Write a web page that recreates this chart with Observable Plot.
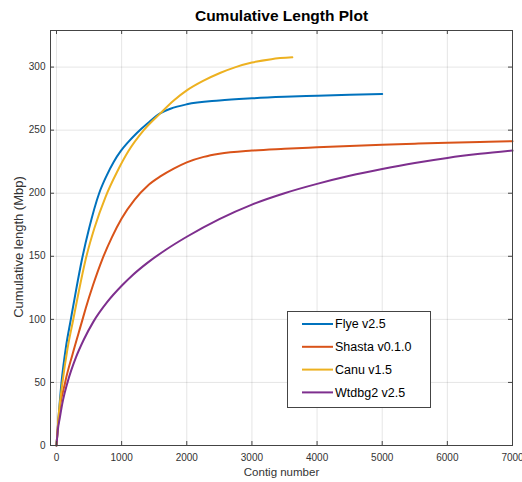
<!DOCTYPE html>
<html><head><meta charset="utf-8">
<script src="https://cdn.jsdelivr.net/npm/d3@7"></script>
<script src="https://cdn.jsdelivr.net/npm/@observablehq/plot@0.6"></script>
<style>
body{margin:0;background:#fff;}
#wrap{position:relative;width:522px;height:482px;font-family:"Liberation Sans",Arial,sans-serif;}
#legend{position:absolute;left:287px;top:311px;}
</style></head><body><div id="wrap"></div>
<script>
const series = ["Flye v2.5","Shasta v0.1.0","Canu v1.5","Wtdbg2 v2.5"];
const colors = ["#0072BD","#D95319","#EDB120","#7E2F8E"];

const flyeX = [0,31,77,145,220,300,389,500,655,770,880,988,1100,1238,1400,1597,1750,2000,2500,3000,3500,4000,4500,5000];
const flyeY = [0,22,50,78,100,123,147,172,200,214,225,233.5,240.5,248,255.5,263.5,267,270.5,273.5,275.2,276.4,277.3,278.1,278.7];

const shastaX = [0,30,133,250,389,450,560,706,850,1000,1200,1400,1600,1800,2000,2260,2500,3000,3500,4000,4500,5000,5500,6000,6500,7000];
const shastaY = [0,20,50,73,98,109,127,148,165,180,195,206,213.5,219.5,224.5,228.8,231.3,233.8,235.2,236.4,237.5,238.5,239.3,240.1,240.7,241.2];

const canuX = [0,30,92,170,256,340,450,580,752,931,1100,1340,1597,1800,2000,2250,2518,2750,3000,3300,3620];
const canuY = [0,22,50,77,99.5,121.5,148,172,197,217,233,250,263.5,273.5,281.5,289,295.5,300,303.6,306.3,307.7];

const wtdbgX = [0,20,51,100,169,300,420,565,783,1008,1167,1400,1673,2000,2500,3000,3500,4000,4500,5000,5500,6000,6500,7000];
const wtdbgY = [0,12,22,36,50,70,84,98,114,127,135,145,155,165.5,179.5,191,200,207.4,213.8,219.2,224,228,231.2,233.8];

const xTicks = [0,1000,2000,3000,4000,5000,6000,7000];
const yTicks = [0,50,100,150,200,250,300];

const title = "Cumulative Length Plot";
const xLabel = "Contig number";
const yLabel = "Cumulative length (Mbp)";

const xs = [flyeX, shastaX, canuX, wtdbgX];
const ys = [flyeY, shastaY, canuY, wtdbgY];
const data = [];
series.forEach((s, i) => xs[i].forEach((x, j) => data.push({series: s, x, y: ys[i][j]})));

const W = 522, H = 482, mL = 50, mR = 10, mT = 30, mB = 37;
const innerW = W - mL - mR, innerH = H - mT - mB;
const font = '"Liberation Sans", Arial, Helvetica, sans-serif';
const axisColor = "#262626";

const plot = Plot.plot({
  width: W, height: H,
  marginLeft: mL, marginRight: mR, marginTop: mT, marginBottom: mB,
  style: {fontFamily: font, fontSize: "10px", color: axisColor, background: "#fff", overflow: "visible"},
  x: {domain: [-92, 7000], label: null},
  y: {domain: [0, 329], label: null},
  color: {domain: series, range: colors},
  marks: [
    Plot.gridX(xTicks, {stroke: "#000", strokeOpacity: 0.1, strokeWidth: 1}),
    Plot.gridY(yTicks, {stroke: "#000", strokeOpacity: 0.1, strokeWidth: 1}),
    Plot.line(data, {x: "x", y: "y", z: "series", stroke: "series", strokeWidth: 2, curve: "monotone-x"}),
    Plot.frame({stroke: "#444", strokeWidth: 1}),
    Plot.tickX(xTicks, {x: d => d, stroke: "#444", insetTop: innerH - 4}),
    Plot.tickX(xTicks, {x: d => d, stroke: "#444", insetBottom: innerH - 4}),
    Plot.tickY(yTicks, {y: d => d, stroke: "#444", insetRight: innerW - 4}),
    Plot.tickY(yTicks, {y: d => d, stroke: "#444", insetLeft: innerW - 4}),
    Plot.axisX(xTicks, {anchor: "bottom", tickSize: 0, tickPadding: 8, fontSize: 10, fill: "#333", label: null, tickFormat: d => String(d)}),
    Plot.axisY(yTicks, {anchor: "left", tickSize: 0, tickPadding: 5, fontSize: 10, fill: "#333", label: null, tickFormat: d => String(d)}),
    Plot.text([xLabel], {frameAnchor: "bottom", dy: 27, text: d => d, fontSize: 11.5, fill: "#333", lineAnchor: "middle", textAnchor: "middle"}),
    Plot.text([yLabel], {frameAnchor: "left", dx: -32, dy: 9, text: d => d, fontSize: 13, fill: "#333", rotate: -90, lineAnchor: "middle", textAnchor: "middle"}),
    Plot.text([title], {frameAnchor: "top", dy: -14, text: d => d, fontSize: 15.5, fontWeight: "bold", fill: "#000", lineAnchor: "middle", textAnchor: "middle"})
  ]
});
const wrap = document.getElementById("wrap");
wrap.appendChild(plot);

// legend
const lg = d3.select(wrap).append("svg").attr("id", "legend")
  .attr("width", 145).attr("height", 98);
lg.append("rect").attr("x", 0.5).attr("y", 0.5).attr("width", 143).attr("height", 96)
  .attr("fill", "#fff").attr("stroke", "#444").attr("stroke-width", 1);
series.forEach((s, i) => {
  const cy = 13 + i * 22.8;
  lg.append("line").attr("x1", 15).attr("x2", 46).attr("y1", cy).attr("y2", cy)
    .attr("stroke", colors[i]).attr("stroke-width", 2);
  lg.append("text").attr("x", 48).attr("y", cy).attr("dy", "0.35em")
    .attr("font-family", font).attr("font-size", 12.5).attr("fill", "#000").text(s);
});
</script></body></html>
